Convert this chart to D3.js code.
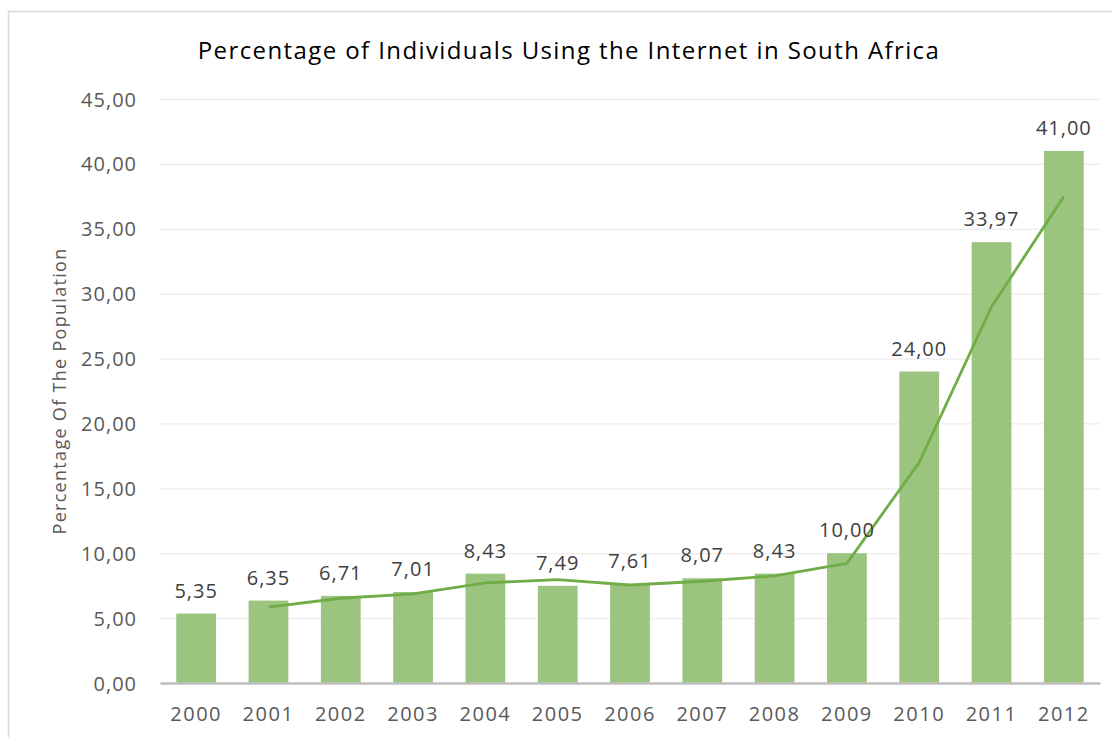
<!DOCTYPE html>
<html>
<head>
<meta charset="utf-8">
<script src="https://cdn.jsdelivr.net/npm/d3@7"></script>
<style>
  body { margin: 0; background: #fff; }
  text { font-family: "Open Sans", "Noto Sans", sans-serif; }
</style>
</head>
<body>
<svg id="svg1" width="1112" height="737"></svg>
<script>
const years = ["2000", "2001", "2002", "2003", "2004", "2005", "2006", "2007", "2008", "2009", "2010", "2011", "2012"];
const values = [5.35, 6.35, 6.71, 7.01, 8.43, 7.49, 7.61, 8.07, 8.43, 10.00, 24.00, 33.97, 41.00];
// moving average trendline (2 periods), starts at 2001
const trendYears = ["2001", "2002", "2003", "2004", "2005", "2006", "2007", "2008", "2009", "2010", "2011", "2012"];
const trendValues = [5.85, 6.53, 6.86, 7.72, 7.96, 7.55, 7.84, 8.25, 9.22, 17.00, 28.99, 37.49];
const yTicks = [0, 5, 10, 15, 20, 25, 30, 35, 40, 45];

const svg = d3.select("svg#svg1");
const margin = { top: 99, right: 12, bottom: 54, left: 160 };
const width = +svg.attr("width");
const height = +svg.attr("height");
const chartWidth = width - margin.left - margin.right;
const chartHeight = height - margin.top - margin.bottom;

const fmt = v => d3.format(".2f")(v).replace(".", ",");

// chart border
svg.append("rect")
    .attr("x", 8.5).attr("y", 11.5)
    .attr("width", width).attr("height", height)
    .style("fill", "none").style("stroke", "#d9d9d9").style("stroke-width", 1.5);

svg.append("text")
    .attr("x", 569).attr("y", 59)
    .attr("text-anchor", "middle")
    .style("font-size", "24px")
    .style("letter-spacing", "1.4px")
    .style("fill", "#000")
    .text("Percentage of Individuals Using the Internet in South Africa");

const chartArea = svg.append("g")
    .attr("transform", `translate(${margin.left},${margin.top})`);

const xScale = d3.scaleBand().domain(years).range([0, chartWidth]).paddingInner(0.45).paddingOuter(0.225);
const yScale = d3.scaleLinear().domain([0, 45]).range([chartHeight, 0]);

// gridlines
let leftGridlines = d3.axisLeft(yScale).tickValues(yTicks).tickSize(-chartWidth).tickFormat("");
chartArea.append("g").attr("class", "y gridlines").call(leftGridlines)
    .call(g => g.select(".domain").remove())
    .call(g => g.selectAll("line").style("stroke", "#ececec").style("stroke-width", 1.3));

// y axis labels
let leftAxis = d3.axisLeft(yScale).tickValues(yTicks).tickSize(0).tickPadding(23).tickFormat(fmt);
chartArea.append("g").attr("class", "y axis").call(leftAxis)
    .call(g => g.select(".domain").remove())
    .call(g => g.selectAll("text").style("font-size", "20px").style("letter-spacing", "1px")
        .style("fill", "#595959").attr("dy", "0.35em"));

// bars
chartArea.selectAll("rect.bar").data(values).join("rect")
    .attr("class", "bar")
    .attr("x", (d, i) => xScale(years[i]))
    .attr("width", xScale.bandwidth())
    .attr("y", d => yScale(d))
    .attr("height", d => chartHeight - yScale(d))
    .style("fill", "#9bc47f");

// x axis
let bottomAxis = d3.axisBottom(xScale).tickSize(0).tickPadding(24);
chartArea.append("g").attr("class", "x axis")
    .attr("transform", `translate(0,${chartHeight})`)
    .call(bottomAxis)
    .call(g => g.select(".domain").style("stroke", "#bfbfbf").style("stroke-width", 2.5))
    .call(g => g.selectAll("text").style("font-size", "20px").style("letter-spacing", "1.5px")
        .style("fill", "#595959"));

// trendline
const lineGen = d3.line()
    .x((d, i) => xScale(trendYears[i]) + xScale.bandwidth() / 2)
    .y(d => yScale(d));
chartArea.append("path")
    .attr("d", lineGen(trendValues))
    .style("fill", "none")
    .style("stroke", "#70ad47")
    .style("stroke-width", 2.8)
    .style("stroke-linejoin", "round");

// data labels
chartArea.selectAll("text.label").data(values).join("text")
    .attr("class", "label")
    .attr("x", (d, i) => xScale(years[i]) + xScale.bandwidth() / 2)
    .attr("y", d => yScale(d) - 16)
    .attr("text-anchor", "middle")
    .style("font-size", "20px")
    .style("letter-spacing", "1px")
    .style("fill", "#404040")
    .text(fmt);

// y axis title
svg.append("text")
    .attr("transform", `translate(66,${margin.top + chartHeight / 2}) rotate(-90)`)
    .attr("text-anchor", "middle")
    .style("font-size", "18px")
    .style("letter-spacing", "1.3px")
    .style("fill", "#595959")
    .text("Percentage Of The Population");
</script>
</body>
</html>
